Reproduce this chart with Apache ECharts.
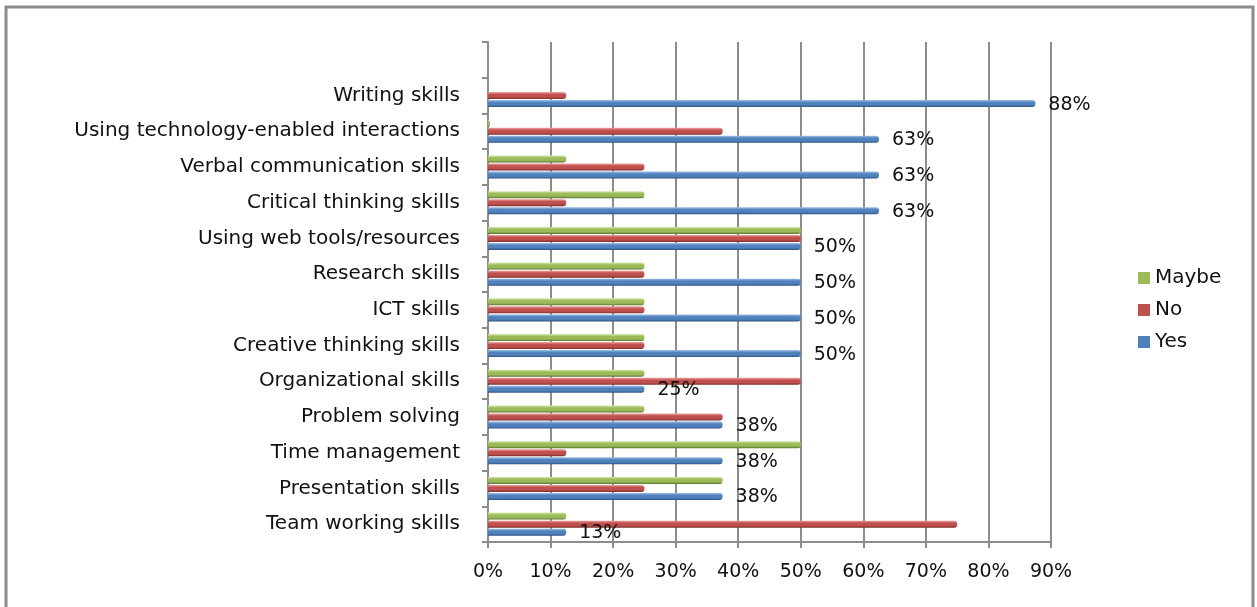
<!DOCTYPE html>
<html>
<head>
<meta charset="utf-8">
<script src="https://cdn.jsdelivr.net/npm/echarts@6/dist/echarts.min.js"></script>
<style>
html,body{margin:0;padding:0;background:#fff;}
#chart{width:1257px;height:607px;}
</style>
</head>
<body>
<div id="chart"></div>
<script>
// ---- data (bottom to top) ----
const categories = [
  'Team working skills',
  'Presentation skills',
  'Time management',
  'Problem solving',
  'Organizational skills',
  'Creative thinking skills',
  'ICT skills',
  'Research skills',
  'Using web tools/resources',
  'Critical thinking skills',
  'Verbal communication skills',
  'Using technology-enabled interactions',
  'Writing skills'
];
const yesValues   = [12.5, 37.5, 37.5, 37.5, 25, 50, 50, 50, 50, 62.5, 62.5, 62.5, 87.5];
const noValues    = [75, 25, 12.5, 37.5, 50, 25, 25, 25, 50, 12.5, 25, 37.5, 12.5];
const maybeValues = [12.5, 37.5, 50, 25, 25, 25, 25, 25, 50, 25, 12.5, 0, null];
const xTickValues = [0, 10, 20, 30, 40, 50, 60, 70, 80, 90];
const seriesNames = ['Maybe', 'No', 'Yes'];   // top to bottom within each group
const legendOrder = ['Maybe', 'No', 'Yes'];

// the reference leaves one empty slot above the top category
const yCats = categories.concat(['']);

const FONT = 'DejaVu Sans';
const AX = '#8c8c8c';

function grad(light, mid, dark) {
  return new echarts.graphic.LinearGradient(0, 0, 0, 1, [
    {offset: 0, color: light},
    {offset: 0.35, color: mid},
    {offset: 0.7, color: mid},
    {offset: 1, color: dark}
  ]);
}
const colors = {
  Yes: grad('#9dbde6', '#4f81bd', '#2f5180'),
  No: grad('#eda3a0', '#c0504d', '#7a2d2b'),
  Maybe: grad('#d4e8aa', '#9bbb59', '#5e7631')
};
const legendColors = {Yes: '#4f81bd', No: '#c0504d', Maybe: '#9bbb59'};

const chart = echarts.init(document.getElementById('chart'), null, {renderer: 'canvas'});

const seriesData = {Yes: yesValues, No: noValues, Maybe: maybeValues};

const option = {
  animation: false,
  backgroundColor: '#fff',
  graphic: [{
    type: 'rect',
    shape: {x: 6, y: 7, width: 1247, height: 620},
    style: {fill: 'none', stroke: '#8a8a8a', lineWidth: 3},
    silent: true
  }],
  legend: {
    data: legendOrder.map(n => ({name: n, itemStyle: {color: legendColors[n]}})),
    orient: 'vertical',
    left: 1133,
    top: 263,
    icon: 'rect',
    itemWidth: 12,
    itemHeight: 12,
    itemGap: 12,
    textStyle: {fontFamily: FONT, fontSize: 20, color: '#111'}
  },
  grid: {left: 488, right: 206, top: 42, bottom: 65, containLabel: false},
  xAxis: {
    type: 'value',
    min: xTickValues[0],
    max: xTickValues[xTickValues.length - 1],
    interval: 10,
    axisLine: {show: true, lineStyle: {color: AX, width: 2}},
    axisTick: {show: true, length: 6, lineStyle: {color: AX, width: 2}},
    axisLabel: {formatter: '{value}%', fontFamily: FONT, fontSize: 19, color: '#111', margin: 21},
    splitLine: {show: true, lineStyle: {color: AX, width: 2}}
  },
  yAxis: {
    type: 'category',
    data: yCats,
    axisLine: {show: true, lineStyle: {color: AX, width: 2}},
    axisTick: {show: true, length: 6, lineStyle: {color: AX, width: 2}},
    axisLabel: {fontFamily: FONT, fontSize: 20, color: '#111', margin: 28},
    splitLine: {show: false}
  },
  series: seriesNames.map(name => ({
    name: name,
    type: 'bar',
    data: seriesData[name],
    barWidth: 7,
    barGap: '15%',
    barMinHeight: name === 'Maybe' ? 2 : 0,
    itemStyle: {color: colors[name], borderRadius: [0, 3, 3, 0]},
    label: name === 'Yes' ? {
      show: true,
      position: 'right',
      distance: 13,
      offset: [0, 1],
      formatter: p => Math.round(p.value) + '%',
      fontFamily: FONT,
      fontSize: 19,
      color: '#111'
    } : {show: false}
  }))
};
chart.setOption(option);
</script>
</body>
</html>
